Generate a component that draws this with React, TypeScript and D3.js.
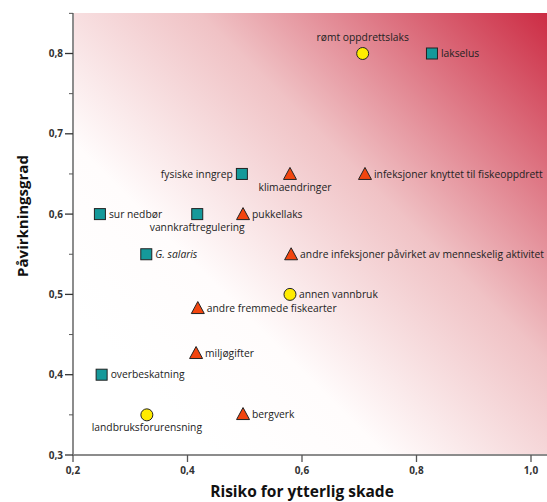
import { scaleLinear, range } from "d3";

const W = 547;
const H = 502;

type Kind = "square" | "circle" | "triangle";
type Pos = "right" | "left" | "above" | "below";

const names = [
  "rømt oppdrettslaks",
  "lakselus",
  "fysiske inngrep",
  "klimaendringer",
  "infeksjoner knyttet til fiskeoppdrett",
  "sur nedbør",
  "vannkraftregulering",
  "pukkellaks",
  "G. salaris",
  "andre infeksjoner påvirket av menneskelig aktivitet",
  "annen vannbruk",
  "andre fremmede fiskearter",
  "miljøgifter",
  "overbeskatning",
  "landbruksforurensning",
  "bergverk",
];
const risk = [0.706, 0.827, 0.495, 0.579, 0.71, 0.247, 0.417, 0.497, 0.328, 0.581, 0.579, 0.418, 0.415, 0.25, 0.329, 0.497];
const impact = [0.8, 0.8, 0.65, 0.65, 0.65, 0.6, 0.6, 0.6, 0.55, 0.55, 0.5, 0.483, 0.427, 0.4, 0.35, 0.351];
const kinds: Kind[] = [
  "circle", "square", "square", "triangle", "triangle", "square", "square", "triangle",
  "square", "triangle", "circle", "triangle", "triangle", "square", "circle", "triangle",
];
const labelPos: Pos[] = [
  "above", "right", "left", "below", "right", "right", "below", "right",
  "right", "right", "right", "right", "right", "right", "below", "right",
];

const xTicks = [0.2, 0.4, 0.6, 0.8, 1.0];
const yTicks = [0.3, 0.4, 0.5, 0.6, 0.7, 0.8];

const colors: Record<Kind, string> = {
  square: "#15999a",
  circle: "#ffec00",
  triangle: "#f2450f",
};

const fmt = (v: number) => v.toFixed(1).replace(".", ",");

function Marker({ kind, cx, cy }: { kind: Kind; cx: number; cy: number }) {
  const common = { fill: colors[kind], stroke: "#222", strokeWidth: 1 };
  if (kind === "square") return <rect x={cx - 5.5} y={cy - 5.5} width={11} height={11} {...common} />;
  if (kind === "circle") return <circle cx={cx} cy={cy} r={6} {...common} />;
  return <path d={`M${cx},${cy - 6.5}L${cx + 6.5},${cy + 5.5}L${cx - 6.5},${cy + 5.5}Z`} {...common} />;
}

export default function App() {
  const left = 73;
  const top = 13;
  const bottom = 455;
  const x = scaleLinear([0.2, 1.0], [left, 531]);
  const y = scaleLinear([0.3, 0.8], [bottom, 53.5]);
  const minorY = range(0.35, 0.86, 0.1);
  const font = "'Open Sans', Lato, sans-serif";

  return (
    <svg width={W} height={H} style={{ position: "absolute", left: 0, top: 0 }} fontFamily={font}>
      <defs>
        <linearGradient id="bg" gradientUnits="userSpaceOnUse" x1={160} y1={400} x2={W} y2={top}>
          <stop offset="0" stopColor="#ffffff" />
          <stop offset="0.22" stopColor="#fffcfc" />
          <stop offset="0.55" stopColor="#f0c2c5" />
          <stop offset="1" stopColor="#cc2c44" />
        </linearGradient>
      </defs>
      <rect x={left} y={top} width={W - left} height={bottom - top} fill="url(#bg)" />

      {/* axes */}
      <line x1={left} y1={top} x2={left} y2={bottom} stroke="#8c8c8c" strokeWidth={2} />
      <line x1={left - 1} y1={bottom} x2={W} y2={bottom} stroke="#8c8c8c" strokeWidth={2} />
      {yTicks.map((t) => (
        <g key={t}>
          <line x1={left - 8} x2={left} y1={y(t)} y2={y(t)} stroke="#333" strokeWidth={1.3} />
          <text x={left - 10} y={y(t)} dy="0.35em" textAnchor="end" fontSize={10} fontWeight={700} fill="#333">
            {fmt(t)}
          </text>
        </g>
      ))}
      {minorY.map((t) => (
        <line key={t} x1={left - 4} x2={left} y1={y(t)} y2={y(t)} stroke="#555" strokeWidth={1} />
      ))}
      {xTicks.map((t) => (
        <g key={t}>
          <line x1={x(t)} x2={x(t)} y1={bottom} y2={bottom + 7} stroke="#555" strokeWidth={1.3} />
          <text x={x(t)} y={bottom + 19} textAnchor="middle" fontSize={10} fontWeight={700} fill="#333">
            {fmt(t)}
          </text>
        </g>
      ))}

      <text transform={`translate(28,216) rotate(-90)`} textAnchor="middle" fontSize={15} fontWeight={700} fill="#111">
        Påvirkningsgrad
      </text>
      <text x={302} y={497} textAnchor="middle" fontSize={15.5} fontWeight={700} fill="#111">
        Risiko for ytterlig skade
      </text>

      {names.map((n, i) => {
        const cx = x(risk[i]);
        const cy = y(impact[i]);
        const p = labelPos[i];
        let tx = cx + 9;
        let ty = cy;
        let anchor: "start" | "end" | "middle" = "start";
        if (p === "left") { tx = cx - 9; anchor = "end"; }
        if (p === "above") { tx = cx; ty = cy - 16; anchor = "middle"; }
        if (p === "below") { tx = cx + (i === 3 ? 5 : 0); ty = cy + 13; anchor = "middle"; }
        return (
          <g key={n}>
            <Marker kind={kinds[i]} cx={cx} cy={cy} />
            <text
              x={tx}
              y={ty}
              dy="0.35em"
              textAnchor={anchor}
              fontSize={10.3}
              fill="#222"
              fontStyle={n === "G. salaris" ? "italic" : "normal"}
            >
              {n}
            </text>
          </g>
        );
      })}
    </svg>
  );
}
